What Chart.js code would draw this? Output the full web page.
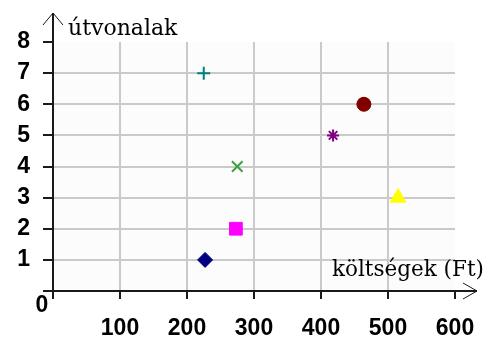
<!DOCTYPE html>
<html>
<head>
<meta charset="utf-8">
<script src="https://cdn.jsdelivr.net/npm/chart.js@4/dist/chart.umd.min.js"></script>
<style>
  html, body { margin: 0; padding: 0; background: #fff; }
  #wrap { width: 484px; height: 340px; position: relative; }
</style>
</head>
<body>
<div id="wrap"><canvas id="chart"></canvas></div>
<script>
// route numbers (y) and their costs in Ft (x)
const routes = [1, 2, 3, 4, 5, 6, 7];
const costs = [227, 273, 515, 275, 418, 464, 225];
const xTicks = [0, 100, 200, 300, 400, 500, 600];
const yTicks = [0, 1, 2, 3, 4, 5, 6, 7, 8];
const yTitle = 'útvonalak';
const xTitle = 'költségek (Ft)';

// marker look per route (Excel-like defaults)
const markers = [
  { style: 'rectRot', color: '#000080', r: 7.5, bw: 1 },
  { style: 'rect', color: '#ff00ff', r: 9, bw: 1 },
  { style: 'triangle', color: '#ffff00', r: 9, bw: 1 },
  { style: 'crossRot', color: '#3fa03f', r: 7.5, bw: 2 },
  { style: 'star', color: '#800080', r: 6, bw: 2 },
  { style: 'circle', color: '#800000', r: 7, bw: 1 },
  { style: 'cross', color: '#008080', r: 6.5, bw: 2 },
];

const AXIS = '#1a1a1a';
const GRID = '#cacaca';
const tickFont = { family: 'Liberation Sans', size: 23, weight: 'bold' };

const datasets = routes.map((r, i) => ({
  label: String(r),
  data: [{ x: costs[i], y: r }],
  pointStyle: markers[i].style,
  pointRadius: markers[i].r,
  pointHoverRadius: markers[i].r,
  pointBackgroundColor: markers[i].color,
  pointBorderColor: markers[i].color,
  pointBorderWidth: markers[i].bw,
  showLine: false,
}));

const axisExtras = {
  id: 'axisExtras',
  beforeDatasetsDraw(chart) {
    // faint plot background like the original
    const { ctx, chartArea: { left, right, top, bottom } } = chart;
    ctx.save();
    ctx.globalCompositeOperation = 'destination-over';
    ctx.fillStyle = '#fcfcfc';
    ctx.fillRect(left, top, right - left, bottom - top);
    ctx.restore();
  },
  afterDraw(chart) {
    const { ctx, chartArea: { left, right, top, bottom } } = chart;
    ctx.save();
    ctx.strokeStyle = AXIS;
    // y axis extension + arrow head
    ctx.lineWidth = 2;
    ctx.beginPath();
    ctx.moveTo(left, top);
    ctx.lineTo(left, top - 29);
    ctx.stroke();
    ctx.lineWidth = 1;
    ctx.beginPath();
    ctx.moveTo(left - 10, top - 17);
    ctx.lineTo(left, top - 29);
    ctx.lineTo(left + 10, top - 17);
    ctx.stroke();
    // x axis extension + arrow head
    ctx.lineWidth = 2;
    ctx.beginPath();
    ctx.moveTo(right, bottom);
    ctx.lineTo(right + 22, bottom);
    ctx.stroke();
    ctx.lineWidth = 1;
    ctx.beginPath();
    ctx.moveTo(right + 8, bottom - 8);
    ctx.lineTo(right + 22, bottom);
    ctx.lineTo(right + 8, bottom + 8);
    ctx.stroke();

    // origin label
    ctx.fillStyle = '#000';
    ctx.font = 'bold 23px "Liberation Sans"';
    ctx.textAlign = 'center';
    ctx.textBaseline = 'middle';
    ctx.fillText('0', left - 11, bottom + 15);

    // axis titles
    ctx.textAlign = 'left';
    ctx.textBaseline = 'alphabetic';
    ctx.font = '22px "DejaVu Serif"';
    ctx.fillText(yTitle, left + 15, top - 7);
    ctx.font = '21.5px "DejaVu Serif"';
    ctx.fillText(xTitle, right - 123, bottom - 15);
    ctx.restore();
  }
};

new Chart(document.getElementById('chart'), {
  type: 'scatter',
  data: { datasets },
  options: {
    responsive: true,
    maintainAspectRatio: false,
    animation: false,
    layout: { padding: { left: 0, top: 42, right: 29, bottom: 0 } },
    plugins: {
      legend: { display: false },
      tooltip: { enabled: true },
    },
    scales: {
      x: {
        type: 'linear',
        min: 0,
        max: 600,
        afterBuildTicks: (s) => { s.ticks = xTicks.map(v => ({ value: v })); },
        afterFit: (s) => { s.height = 49; s.paddingLeft = 0; s.paddingRight = 0; },
        grid: {
          color: (c) => (c.tick && (c.tick.value === 0 || c.tick.value === 600)) ? 'rgba(0,0,0,0)' : GRID,
          lineWidth: 2,
          tickColor: AXIS,
          tickLength: 8,
          tickWidth: 2,
        },
        border: { color: AXIS, width: 2 },
        ticks: {
          color: '#000',
          font: tickFont,
          padding: 16,
          maxRotation: 0,
          autoSkip: false,
          callback: (v) => v === 0 ? '' : v,
        },
      },
      y: {
        type: 'linear',
        min: 0,
        max: 8,
        afterBuildTicks: (s) => { s.ticks = yTicks.map(v => ({ value: v })); },
        afterFit: (s) => { s.width = 53; s.paddingTop = 0; s.paddingBottom = 0; },
        grid: {
          color: (c) => (c.tick && (c.tick.value === 0 || c.tick.value === 8)) ? 'rgba(0,0,0,0)' : GRID,
          lineWidth: 2,
          tickColor: AXIS,
          tickLength: 10,
          tickWidth: 2,
        },
        border: { color: AXIS, width: 2 },
        ticks: {
          color: '#000',
          font: tickFont,
          padding: 13,
          autoSkip: false,
          callback: (v) => v === 0 ? '' : v,
        },
      },
    },
  },
  plugins: [axisExtras],
});
</script>
</body>
</html>
